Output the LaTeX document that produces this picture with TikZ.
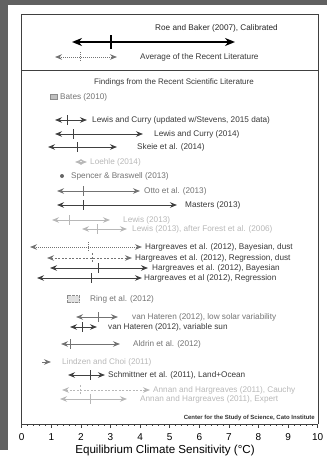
\documentclass[tikz,border=0pt]{standalone}
\usepackage{fontspec}
\setmainfont{Liberation Sans}
\usetikzlibrary{arrows.meta}
\tikzset{
  tipd/.tip={Stealth[length=7pt,width=5.5pt]},
  bar/.style={line width=0.9pt, draw=black!75, tipd-tipd},
  midbar/.style={bar, draw=black!55},
  lightbar/.style={bar, draw=black!28},
  dotbar/.style={bar, draw=black!55, dash pattern=on 1pt off 1pt},
  dashbar/.style={bar, draw=black!55, dash pattern=on 2pt off 1.5pt},
  ldashbar/.style={bar, draw=black!28, dash pattern=on 2pt off 1.5pt},
  lbl/.style={anchor=west, inner sep=0pt, font=\fontsize{8.2}{9}\selectfont, text=black!78},
  mlbl/.style={lbl, text=black!55},
  llbl/.style={lbl, text=black!28},
  frame/.style={draw=black!75, line width=0.8pt},
}
\newcommand\rng[9]{%
  \coordinate (#1-l) at (#3,#2);
  \coordinate (#1-r) at (#4,#2);
  \coordinate (#1-t) at (#5,#2);
  \draw[#7] (#1-l) -- (#1-r);
  \draw[#7,-] ([yshift=5pt]#1-t) -- ([yshift=-5pt]#1-t);
  \node[#8] (#1) at (#6,#2) {#9};
}
\begin{document}
\begin{tikzpicture}[x=1pt,y=-1pt]
\useasboundingbox (0,0) rectangle (327,458);
% scan edge strips
\fill[black!62] (0,0) rectangle (8,450);
\fill[black!62] (0,0) rectangle (327,5);
% frame
\draw[frame] (21.7,424) -- (21.7,14) -- (318,14) -- (318,424);
\draw[frame] (21.7,70) -- (318,70);
% axis
\draw[frame] (21.7,424) -- (318,424);
\foreach \i in {0,...,10} {
  \draw[frame] ({21.7+29.6*\i},424) -- ({21.7+29.6*\i},427.5);
  \node[font=\fontsize{10}{12}\selectfont] (tick\i) at ({21.7+29.6*\i},437) {\i};
}
\foreach \i in {1,...,49} {
  \draw[black!75, line width=0.5pt] ({21.7+5.92*\i},424) -- ({21.7+5.92*\i},426);
}
\node[font=\fontsize{11.6}{13}\selectfont] (xtitle) at (165,450) {Equilibrium Climate Sensitivity (°C)};
% top section
\coordinate (rb-l) at (72,42);
\coordinate (rb-r) at (235,42);
\coordinate (rb-t) at (111,42);
\draw[line width=2.2pt, black, {Stealth[length=10pt,width=8pt]}-{Stealth[length=10pt,width=8pt]}] (rb-l) -- (rb-r);
\draw[line width=2pt, black] ([yshift=7pt]rb-t) -- ([yshift=-7pt]rb-t);
\node[lbl, text=black!85] (rb) at (155,28) {Roe and Baker (2007), Calibrated};
\rng{avg}{57}{55}{117}{80}{140}{dotbar}{lbl}{Average of the Recent Literature}
\node[font=\fontsize{8}{9}\selectfont, text=black!78] (hdr) at (174,82) {Findings from the Recent Scientific Literature};
% Bates
\node[draw=black!45, fill=black!25, minimum width=7pt, minimum height=5pt, inner sep=0pt] (bates-s) at (53.5,97) {};
\node[mlbl] (bates) at (60,97) {Bates (2010)};
\rng{lcu}{120}{55}{87}{67}{92}{bar}{lbl}{Lewis and Curry (updated w/Stevens, 2015 data)}
\rng{lc14}{134}{55}{143}{73}{154}{bar}{lbl}{Lewis and Curry (2014)}
\rng{sk}{147}{48}{117}{77}{137}{bar}{lbl}{Skeie et al. (2014)}
% Loehle
\coordinate (lo-l) at (75,162);
\coordinate (lo-r) at (87,162);
\draw[lightbar] (lo-l) -- (lo-r);
\node[llbl] (lo) at (90,162) {Loehle (2014)};
% Spencer
\node[circle, fill=black!60, minimum size=4pt, inner sep=0pt] (sb-d) at (62,176) {};
\node[mlbl] (sb) at (71,176) {Spencer \& Braswell (2013)};
\rng{ot}{191}{57}{140}{83}{144}{midbar}{mlbl}{Otto et al. (2013)}
\rng{ma}{205}{57}{177}{83}{185}{bar}{lbl}{Masters (2013)}
\rng{le}{220}{52}{110}{69}{123}{lightbar}{llbl}{Lewis (2013)}
\rng{lef}{229}{82}{127}{97}{132}{lightbar}{llbl}{Lewis (2013), after Forest et al. (2006)}
\rng{hbd}{247}{30}{142}{88}{145}{dotbar}{lbl}{Hargreaves et al. (2012), Bayesian, dust}
\rng{hrd}{258}{47}{132}{92}{135}{dashbar}{lbl}{Hargreaves et al. (2012), Regression, dust}
\rng{hb}{268}{50}{148}{98}{152}{bar}{lbl}{Hargreaves et al. (2012), Bayesian}
\rng{hr}{278}{37}{142}{91}{144}{bar}{lbl}{Hargreaves et al (2012), Regression}
% Ring
\node[draw=black!45, densely dotted, fill=black!12, minimum width=12pt, minimum height=7pt, inner sep=0pt] (ring-s) at (73.5,299) {};
\node[mlbl] (ring) at (90,299) {Ring et al. (2012)};
\rng{vhl}{317}{76}{118}{98}{132}{midbar}{mlbl}{van Hateren (2012), low solar variability}
\rng{vhv}{327}{70}{97}{82}{108}{bar}{lbl}{van Hateren (2012), variable sun}
\rng{al}{344}{61}{120}{70}{133}{midbar}{mlbl}{Aldrin et al. (2012)}
% Lindzen and Choi
\coordinate (lch-l) at (42,362);
\coordinate (lch-r) at (51,362);
\draw[line width=0.9pt, draw=black!55, -tipd] (lch-l) -- (lch-r);
\node[llbl] (lch) at (62,362) {Lindzen and Choi (2011)};
\rng{sch}{375}{68}{105}{90}{108}{bar}{lbl}{Schmittner et al. (2011), Land+Ocean}
\rng{ahc}{390}{62}{150}{80}{153}{ldashbar}{llbl}{Annan and Hargreaves (2011), Cauchy}
\rng{ahe}{399}{60}{127}{90}{140}{lightbar}{llbl}{Annan and Hargreaves (2011), Expert}
\node[anchor=east, inner sep=0pt, font=\bfseries\fontsize{6}{7}\selectfont, text=black!80] (cato) at (315,418) {Center for the Study of Science, Cato Institute};
\end{tikzpicture}
\end{document}
